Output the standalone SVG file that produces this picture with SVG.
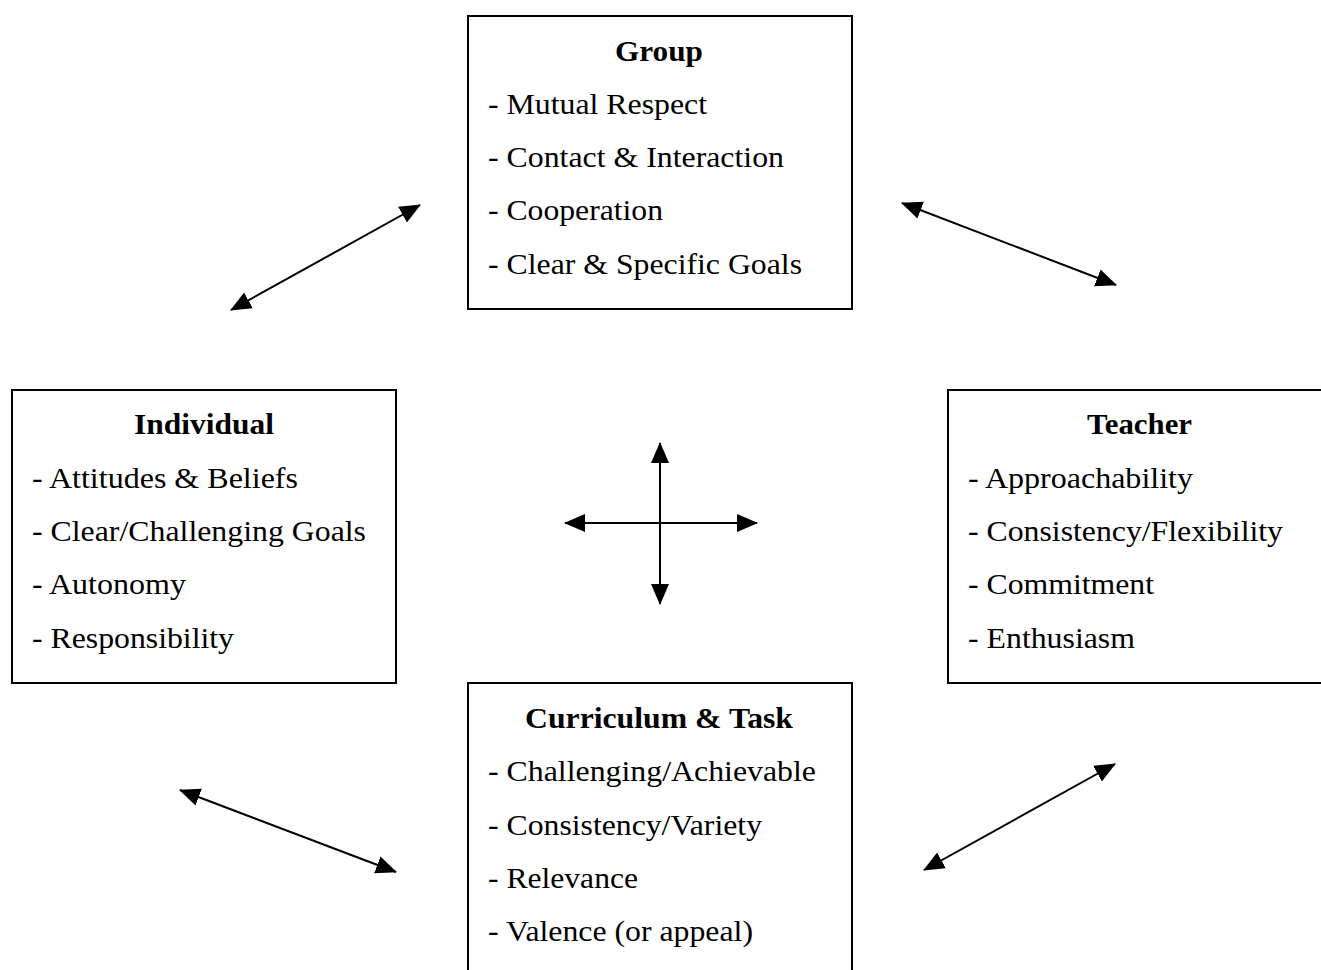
<svg xmlns="http://www.w3.org/2000/svg" width="1321" height="970" viewBox="0 0 1321 970">
<defs>
<style>
.box{fill:#fff;stroke:#000;stroke-width:2}
.t{font-family:"Liberation Serif","Times New Roman",serif;font-size:29px;fill:#000}
.h{font-weight:bold;text-anchor:middle}
.c{stroke:#000;stroke-width:2;fill:none;marker-start:url(#a);marker-end:url(#a)}
</style>
<marker id="a" markerUnits="userSpaceOnUse" markerWidth="22" markerHeight="20" refX="20" refY="10" orient="auto-start-reverse" viewBox="0 0 22 20">
<path d="M0,1 L21,10 L0,19 Z" fill="#000"/>
</marker>
</defs>
<rect width="1321" height="970" fill="#fff"/>
<g id="group">
<rect class="box" x="468" y="16" width="384" height="293"/>
<text class="t h" x="659" y="61" textLength="88" lengthAdjust="spacingAndGlyphs">Group</text>
<text class="t" x="488" y="114" textLength="219" lengthAdjust="spacingAndGlyphs">- Mutual Respect</text>
<text class="t" x="488" y="167" textLength="296" lengthAdjust="spacingAndGlyphs">- Contact &amp; Interaction</text>
<text class="t" x="488" y="220" textLength="175" lengthAdjust="spacingAndGlyphs">- Cooperation</text>
<text class="t" x="488" y="274" textLength="314" lengthAdjust="spacingAndGlyphs">- Clear &amp; Specific Goals</text>
</g>
<g id="individual">
<rect class="box" x="12" y="390" width="384" height="293"/>
<text class="t h" x="204" y="434" textLength="140" lengthAdjust="spacingAndGlyphs">Individual</text>
<text class="t" x="32" y="488" textLength="266" lengthAdjust="spacingAndGlyphs">- Attitudes &amp; Beliefs</text>
<text class="t" x="32" y="541" textLength="334" lengthAdjust="spacingAndGlyphs">- Clear/Challenging Goals</text>
<text class="t" x="32" y="594" textLength="154" lengthAdjust="spacingAndGlyphs">- Autonomy</text>
<text class="t" x="32" y="648" textLength="202" lengthAdjust="spacingAndGlyphs">- Responsibility</text>
</g>
<g id="teacher">
<rect class="box" x="948" y="390" width="384" height="293"/>
<text class="t h" x="1139.5" y="434" textLength="105" lengthAdjust="spacingAndGlyphs">Teacher</text>
<text class="t" x="968" y="488" textLength="225" lengthAdjust="spacingAndGlyphs">- Approachability</text>
<text class="t" x="968" y="541" textLength="315" lengthAdjust="spacingAndGlyphs">- Consistency/Flexibility</text>
<text class="t" x="968" y="594" textLength="186" lengthAdjust="spacingAndGlyphs">- Commitment</text>
<text class="t" x="968" y="648" textLength="167" lengthAdjust="spacingAndGlyphs">- Enthusiasm</text>
</g>
<g id="curriculum">
<rect class="box" x="468" y="683" width="384" height="300"/>
<text class="t h" x="659" y="728" textLength="268" lengthAdjust="spacingAndGlyphs">Curriculum &amp; Task</text>
<text class="t" x="488" y="781" textLength="328" lengthAdjust="spacingAndGlyphs">- Challenging/Achievable</text>
<text class="t" x="488" y="835" textLength="274" lengthAdjust="spacingAndGlyphs">- Consistency/Variety</text>
<text class="t" x="488" y="888" textLength="150" lengthAdjust="spacingAndGlyphs">- Relevance</text>
<text class="t" x="488" y="941" textLength="265" lengthAdjust="spacingAndGlyphs">- Valence (or appeal)</text>
</g>
<g id="connectors">
<line class="c" x1="231" y1="310" x2="420" y2="205"/>
<line class="c" x1="902" y1="203" x2="1116" y2="285"/>
<line class="c" x1="660" y1="443" x2="660" y2="604"/>
<line class="c" x1="565" y1="523" x2="757" y2="523"/>
<line class="c" x1="180" y1="790" x2="396" y2="872"/>
<line class="c" x1="924" y1="870" x2="1115" y2="764"/>
</g>
</svg>
